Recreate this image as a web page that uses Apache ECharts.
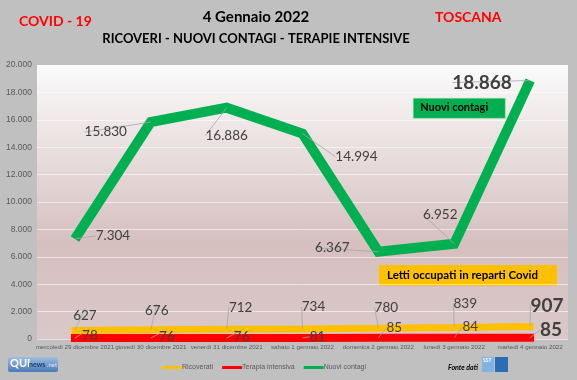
<!DOCTYPE html>
<html>
<head>
<meta charset="utf-8">
<script src="https://cdn.jsdelivr.net/npm/echarts@6/dist/echarts.min.js"></script>
<style>html,body{margin:0;padding:0;background:#c0c0c0;}#c{width:577px;height:380px;}</style>
</head>
<body>
<div id="c"></div>
<script>
const categories = ['mercoledì 29 dicembre 2021','giovedì 30 dicembre 2021','venerdì 31 dicembre 2021','sabato 1 gennaio 2022','domenica 2 gennaio 2022','lunedì 3 gennaio 2022','martedì 4 gennaio 2022'];
const ricoverati = [627, 676, 712, 734, 780, 839, 907];
const terapiaIntensiva = [78, 76, 76, 81, 85, 84, 85];
const nuoviContagi = [7304, 15830, 16886, 14994, 6367, 6952, 18868];

// label offsets (dx, dy) relative to the data point
const contagiLabelOff = [[38,-3],[-45,10],[0,28],[54,23],[-46,-4],[-14,-29],[-48,2]];
const ricoveratiLabelOff = [[10,-15],[6,-19],[14,-22],[11,-22],[8,-21],[11,-24],[17,-21]];
const terapiaLabelOff = [[15,-2],[16,-1],[15,-1],[15,-1],[16,-10],[16,-11],[21,-8]];

const FONT = 'Lato, "Open Sans", sans-serif';
const AXFONT = '"Liberation Sans", Arial, sans-serif';
const fmt = v => String(v).replace(/\B(?=(\d{3})+(?!\d))/g, '.');

function mkData(vals, normalSize, lastSize) {
  return vals.map((v, i) => {
    const last = i === vals.length - 1;
    return {
      value: v,
      label: {
        fontSize: last ? lastSize : normalSize,
        fontWeight: last ? 'bold' : 'normal'
      }
    };
  });
}
function mkLayout(offs) {
  return p => ({dx: offs[p.dataIndex][0], dy: offs[p.dataIndex][1]});
}

const labelBase = {show: true, position: 'inside', color: '#404040', fontFamily: FONT, formatter: p => fmt(p.value)};
const guide = {show: true, length2: 0, lineStyle: {color: '#a6a6a6', width: 0.8}};

const chart = echarts.init(document.getElementById('c'));
chart.setOption({
  backgroundColor: '#c0c0c0',
  animation: false,
  textStyle: {fontFamily: FONT},
  title: [
    {text: 'COVID - 19', left: 19, top: 14, padding: 0, textStyle: {color: '#ff0000', fontSize: 14, fontWeight: 'bold', fontFamily: FONT}},
    {text: 'TOSCANA', left: 435, top: 10, padding: 0, textStyle: {color: '#ff0000', fontSize: 14, fontWeight: 'bold', fontFamily: FONT}},
    {text: '4 Gennaio 2022', left: 256, textAlign: 'center', top: 10, padding: 0, textStyle: {color: '#000', fontSize: 15, fontWeight: 'bold', fontFamily: FONT}},
    {text: 'RICOVERI - NUOVI CONTAGI - TERAPIE INTENSIVE', left: 256, textAlign: 'center', top: 32, padding: 0, textStyle: {color: '#000', fontSize: 13, fontWeight: 'bold', fontFamily: FONT}}
  ],
  grid: {
    left: 37, right: 9, top: 65, bottom: 41,
    show: true, borderWidth: 0,
    backgroundColor: new echarts.graphic.LinearGradient(0, 0, 0, 1, [
      {offset: 0, color: '#fbfbfb'},
      {offset: 0.65, color: '#d6bfbf'},
      {offset: 1, color: '#dac8c8'}
    ])
  },
  legend: {
    bottom: 4, left: 157,
    itemWidth: 20, itemHeight: 3, itemGap: 9,
    icon: 'rect',
    textStyle: {color: '#595959', fontSize: 7, fontFamily: AXFONT, padding: [0,0,0,-5]},
    data: ['Ricoverati', 'Terapia intensiva', 'Nuovi contagi']
  },
  xAxis: {
    type: 'category',
    data: categories,
    boundaryGap: true,
    axisLine: {show: false},
    axisTick: {show: false},
    axisLabel: {interval: 0, fontSize: 6.2, color: '#595959', margin: 5, fontFamily: AXFONT}
  },
  yAxis: {
    type: 'value',
    min: 0, max: 20000, interval: 2000,
    axisLine: {show: false},
    axisTick: {show: false},
    splitLine: {lineStyle: {color: 'rgba(255,255,255,0.55)', width: 1}},
    axisLabel: {fontSize: 8.5, color: '#595959', margin: 5, formatter: v => fmt(v), fontFamily: AXFONT}
  },
  series: [
    {
      name: 'Ricoverati', type: 'line', z: 2,
      data: mkData(ricoverati, 13.5, 19),
      showSymbol: true, symbol: 'circle', symbolSize: 0,
      color: '#ffc000',
      lineStyle: {width: 7, color: '#ffc000', cap: 'square'},
      label: labelBase, labelLine: guide, labelLayout: mkLayout(ricoveratiLabelOff)
    },
    {
      name: 'Terapia intensiva', type: 'line', z: 3,
      data: mkData(terapiaIntensiva, 13.5, 19),
      showSymbol: true, symbol: 'circle', symbolSize: 0,
      color: '#ff0000',
      lineStyle: {width: 8, color: '#ff0000', cap: 'square'},
      label: labelBase, labelLine: guide, labelLayout: mkLayout(terapiaLabelOff)
    },
    {
      name: 'Nuovi contagi', type: 'line', z: 4,
      data: mkData(nuoviContagi, 13.5, 19),
      showSymbol: true, symbol: 'circle', symbolSize: 0,
      color: '#00b050',
      lineStyle: {width: 10, color: '#00b050', join: 'miter'},
      label: labelBase, labelLine: guide, labelLayout: mkLayout(contagiLabelOff)
    }
  ],
  graphic: [
    {type: 'group', left: 413, top: 98, children: [
      {type: 'rect', shape: {x: 0, y: 0, width: 92, height: 20}, style: {fill: '#00b050', stroke: '#a5d6a7', lineWidth: 0.5}},
      {type: 'text', left: 7, top: 4, style: {text: 'Nuovi contagi', fill: '#000', font: 'bold 11px ' + FONT}}
    ]},
    {type: 'group', left: 379, top: 265, children: [
      {type: 'rect', shape: {x: 0, y: 0, width: 178, height: 21}, style: {fill: '#ffc000'}},
      {type: 'text', left: 8, top: 4, style: {text: 'Letti occupati in reparti Covid', fill: '#000', font: 'bold 11.5px ' + FONT}}
    ]},
    {type: 'group', left: 8, top: 357, children: [
      {type: 'rect', shape: {x: 0, y: 0, width: 50, height: 15, r: 2}, style: {fill: new echarts.graphic.LinearGradient(0,0,0,1,[{offset:0,color:'#9fbde0'},{offset:1,color:'#4a7ab8'}])}},
      {type: 'text', left: 2, top: 1, style: {text: 'QUI', fill: '#fff', font: 'bold 11px ' + FONT}},
      {type: 'text', left: 21, top: 4, style: {text: 'news', fill: '#1f3f6e', font: 'bold 7px ' + FONT}},
      {type: 'text', left: 39, top: 5, style: {text: '.net', fill: '#dce8f5', font: '6px ' + FONT}}
    ]},
    {type: 'text', left: 448, top: 364, style: {text: 'Fonte dati', fill: '#000', font: 'italic bold 7px ' + FONT}},
    {type: 'group', left: 482, top: 357, children: [
      {type: 'rect', shape: {x: 0, y: 0, width: 12, height: 15}, style: {fill: '#7fb3e6'}},
      {type: 'text', left: 1, top: 1, style: {text: 'SST', fill: '#fff', font: 'bold 5px ' + FONT}},
      {type: 'rect', shape: {x: 13, y: 0, width: 13, height: 15}, style: {fill: '#2a6db5'}}
    ]}
  ]
});
</script>
</body>
</html>
